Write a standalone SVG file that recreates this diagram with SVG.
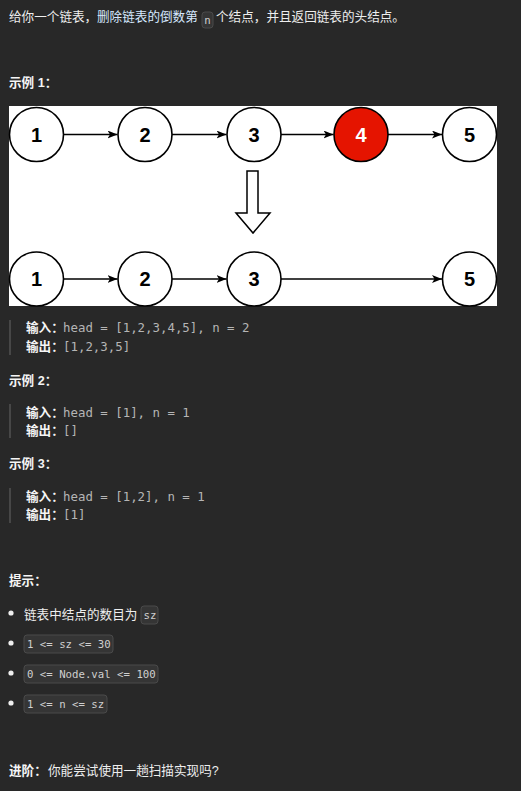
<svg xmlns="http://www.w3.org/2000/svg" width="521" height="791" viewBox="0 0 521 791">
<defs>
<style>
.t{font-family:"Liberation Sans","Noto Sans CJK SC",sans-serif;font-size:12.6px;fill:#eeeeee}
.b{font-weight:bold;fill:#f5f5f5}
.lnk{fill:#d6e8ff}
.m{font-family:"DejaVu Sans Mono","Liberation Mono",monospace;font-size:12.4px;fill:#b5b5b5}
.ic{font-family:"DejaVu Sans Mono","Liberation Mono",monospace;font-size:10.7px;fill:#cfcfcf}
.box{fill:#353535;stroke:#4a4a4a;stroke-width:1}
.bar{fill:#474747}
.node circle{fill:#ffffff;stroke:#000000;stroke-width:1.6}
.node text{font-family:"Liberation Sans",Arial,sans-serif;font-weight:bold;font-size:20px;fill:#000000;text-anchor:middle}
.edge{stroke:#000000;stroke-width:1.4;fill:none;marker-end:url(#ah)}
</style>
<marker id="ah" viewBox="0 0 10 8" refX="10" refY="4" markerWidth="10" markerHeight="8" markerUnits="userSpaceOnUse" orient="auto">
<path d="M0,0 L10,4 L0,8 L2.5,4 z" fill="#000000"/>
</marker>
</defs>
<rect x="0" y="0" width="521" height="791" fill="#282828"/>

<!-- Title line -->
<text class="t" x="9" y="21">给你一个链表，</text>
<text class="t lnk" x="97" y="21">删除链表的倒数第</text>
<rect class="box" x="202" y="12" width="11" height="16" rx="3"/>
<text class="ic" x="207.5" y="24" text-anchor="middle">n</text>
<text class="t" x="216" y="21">个结点，并且返回链表的头结点。</text>

<text class="t b" x="9" y="87">示例 1：</text>

<!-- Diagram -->
<rect x="9" y="106" width="488" height="200" fill="#ffffff"/>

<g id="connectors">
<line class="edge" x1="63.5" y1="134.5" x2="117.5" y2="134.5"/>
<line class="edge" x1="172" y1="134.5" x2="226.5" y2="134.5"/>
<line class="edge" x1="281" y1="134.5" x2="333.5" y2="134.5"/>
<line class="edge" x1="388" y1="134.5" x2="442" y2="134.5"/>
<line class="edge" x1="63.5" y1="279" x2="117.5" y2="279"/>
<line class="edge" x1="172" y1="279" x2="226.5" y2="279"/>
<line class="edge" x1="281" y1="279" x2="442" y2="279"/>
</g>

<g id="down-arrow">
<path d="M247,171 L258,171 L258,213 L270,213 L253,233 L236,213 L247,213 Z" fill="#ffffff" stroke="#000000" stroke-width="1.5" stroke-linejoin="miter"/>
</g>

<g id="t1" class="node"><circle cx="36.5" cy="134.5" r="27"/><text x="36.5" y="141.5">1</text></g>
<g id="t2" class="node"><circle cx="145" cy="134.5" r="27"/><text x="145" y="141.5">2</text></g>
<g id="t3" class="node"><circle cx="254" cy="134.5" r="27"/><text x="254" y="141.5">3</text></g>
<g id="t4" class="node"><circle cx="361" cy="134.5" r="27" style="fill:#e51400"/><text x="361" y="141.5" style="fill:#ffffff">4</text></g>
<g id="t5" class="node"><circle cx="469.5" cy="134.5" r="27"/><text x="469.5" y="141.5">5</text></g>

<g id="b1" class="node"><circle cx="36.5" cy="279" r="27"/><text x="36.5" y="286">1</text></g>
<g id="b2" class="node"><circle cx="145" cy="279" r="27"/><text x="145" y="286">2</text></g>
<g id="b3" class="node"><circle cx="254" cy="279" r="27"/><text x="254" y="286">3</text></g>
<g id="b5" class="node"><circle cx="469.5" cy="279" r="27"/><text x="469.5" y="286">5</text></g>

<!-- Example 1 -->
<rect class="bar" x="9" y="320" width="2" height="35"/>
<text class="t b" x="26" y="332">输入：</text>
<text class="m" x="63" y="332">head = [1,2,3,4,5], n = 2</text>
<text class="t b" x="26" y="351">输出：</text>
<text class="m" x="63" y="351">[1,2,3,5]</text>

<text class="t b" x="9" y="385">示例 2：</text>
<rect class="bar" x="9" y="404" width="2" height="34"/>
<text class="t b" x="26" y="417">输入：</text>
<text class="m" x="63" y="417">head = [1], n = 1</text>
<text class="t b" x="26" y="435">输出：</text>
<text class="m" x="63" y="435">[]</text>

<text class="t b" x="9" y="468">示例 3：</text>
<rect class="bar" x="9" y="488" width="2" height="35"/>
<text class="t b" x="26" y="501">输入：</text>
<text class="m" x="63" y="501">head = [1,2], n = 1</text>
<text class="t b" x="26" y="519">输出：</text>
<text class="m" x="63" y="519">[1]</text>

<!-- Hints -->
<text class="t b" x="9" y="585">提示：</text>

<circle cx="11" cy="613" r="2.6" fill="#eeeeee"/>
<text class="t" x="24" y="619">链表中结点的数目为</text>
<rect class="box" x="141" y="606" width="17" height="18" rx="3"/>
<text class="ic" x="143.5" y="619">sz</text>

<circle cx="11" cy="643" r="2.6" fill="#eeeeee"/>
<rect class="box" x="24" y="635" width="89" height="18" rx="3"/>
<text class="ic" x="27" y="648">1 &lt;= sz &lt;= 30</text>

<circle cx="11" cy="673" r="2.6" fill="#eeeeee"/>
<rect class="box" x="24" y="665" width="134" height="18" rx="3"/>
<text class="ic" x="27" y="678">0 &lt;= Node.val &lt;= 100</text>

<circle cx="11" cy="703" r="2.6" fill="#eeeeee"/>
<rect class="box" x="24" y="695" width="83" height="18" rx="3"/>
<text class="ic" x="27" y="708">1 &lt;= n &lt;= sz</text>

<text class="t b" x="9" y="775">进阶：</text>
<text class="t" x="48" y="775">你能尝试使用一趟扫描实现吗?</text>
</svg>
